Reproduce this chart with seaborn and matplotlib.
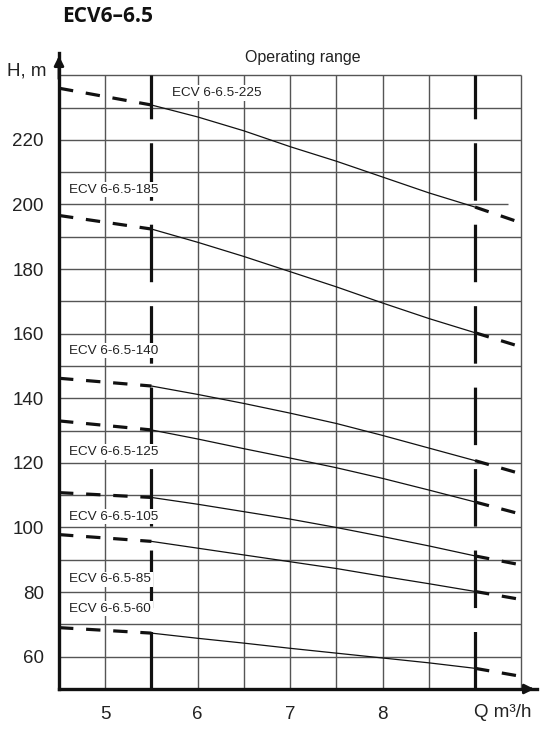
import matplotlib
matplotlib.use("Agg")
import matplotlib.pyplot as plt
import seaborn as sns
import pandas as pd

# ---- data ----
q_work = [5.5, 6.0, 6.5, 7.0, 7.5, 8.0, 8.5, 9.0]
q_left = [4.5, 5.5]
q_right = [9.0, 9.5]

models = ["ECV 6-6.5-225", "ECV 6-6.5-185", "ECV 6-6.5-140", "ECV 6-6.5-125",
          "ECV 6-6.5-105", "ECV 6-6.5-85", "ECV 6-6.5-60"]
h_225 = [230.8, 227.1, 222.8, 217.9, 213.4, 208.5, 203.6, 199.2]
h_185 = [192.4, 188.3, 183.9, 179.2, 174.5, 169.5, 164.7, 160.3]
h_140 = [143.8, 141.2, 138.4, 135.4, 132.2, 128.5, 124.6, 120.7]
h_125 = [130.2, 127.4, 124.4, 121.5, 118.5, 115.2, 111.6, 107.9]
h_105 = [109.3, 107.2, 104.9, 102.6, 100.0, 97.2, 94.3, 91.2]
h_85 = [95.7, 93.6, 91.5, 89.4, 87.3, 84.9, 82.6, 80.2]
h_60 = [67.3, 65.7, 64.2, 62.6, 61.1, 59.6, 58.1, 56.4]
h_left_start = [236.0, 196.6, 146.2, 133.0, 110.8, 97.8, 69.0]
h_right_end = [194.3, 155.9, 116.6, 104.1, 88.4, 77.7, 53.9]
curves = [h_225, h_185, h_140, h_125, h_105, h_85, h_60]

label_x = [5.72, 4.61, 4.61, 4.61, 4.61, 4.61, 4.61]
label_y = [234.5, 204.6, 154.7, 123.4, 103.4, 84.0, 74.9]

x_ticks = [5, 6, 7, 8]
y_ticks = [60, 80, 100, 120, 140, 160, 180, 200, 220]
limits = [5.5, 9.0]

# ---- figure ----
sns.set_theme(style="white")
plt.rcParams['font.family'] = ['Liberation Sans', 'DejaVu Sans']
fig = plt.figure(figsize=(5.41, 7.29), dpi=100)
ax = fig.add_axes([59/541, 40/729, (537-59)/541, (689-53)/729])
ax.set_xlim(4.5, 9.67)
ax.set_ylim(50, 246.9)

# grid (x 4.5..9.5 every 0.5, y 50..240 every 10)
gcol = "#555555"
for i in range(1, 20):
    h = 50 + 10 * i
    xr = 9.36 if h == 200 else 9.5
    ax.hlines(h, 4.5, xr, color=gcol, lw=1.0, zorder=1)
for i in range(1, 11):
    xv = 4.5 + 0.5 * i
    if xv in limits:
        continue
    ax.vlines(xv, 50, 240, color=gcol, lw=1.0, zorder=1)

# operating range limits
for xv in limits:
    ax.vlines(xv, 50, 240, color="#111111", lw=2.3, zorder=3,
              linestyles=[(0, (18, 7.5))])

# curves
for name, h, h0, h1 in zip(models, curves, h_left_start, h_right_end):
    df = pd.DataFrame({"Q": q_work, "H": h})
    sns.lineplot(data=df, x="Q", y="H", ax=ax, color="#111111", lw=0.9,
                 zorder=4, sort=False)
    dl = pd.DataFrame({"Q": q_left, "H": [h0, h[0]]})
    sns.lineplot(data=dl, x="Q", y="H", ax=ax, color="#111111", lw=2.3,
                 zorder=4, linestyle=(0, (4.5, 4)))
    dr = pd.DataFrame({"Q": q_right, "H": [h[-1], h1]})
    sns.lineplot(data=dr, x="Q", y="H", ax=ax, color="#111111", lw=2.3,
                 zorder=4, linestyle=(0, (4.5, 4)))

for name, lx, ly in zip(models, label_x, label_y):
    ax.text(lx, ly, name, fontsize=9.7, va="center", ha="left", zorder=5,
            family=['Liberation Sans Narrow', 'Liberation Sans'],
            color="#222222",
            bbox=dict(facecolor="white", edgecolor="none", pad=1.2))

# axes
for s in ["top", "right"]:
    ax.spines[s].set_visible(False)
for s in ["left", "bottom"]:
    ax.spines[s].set_linewidth(2.4)
    ax.spines[s].set_color("#111111")
ax.annotate("", xy=(4.5, 246.9), xytext=(4.5, 238),
            arrowprops=dict(arrowstyle="-|>", color="#111111", lw=2.0,
                            mutation_scale=14), annotation_clip=False)
ax.annotate("", xy=(9.67, 50), xytext=(9.55, 50),
            arrowprops=dict(arrowstyle="-|>", color="#111111", lw=2.0,
                            mutation_scale=14), annotation_clip=False)

ax.set_xticks(x_ticks)
ax.set_xticklabels([str(v) for v in x_ticks])
ax.set_yticks(y_ticks)
ax.set_yticklabels([str(v) for v in y_ticks])
ax.tick_params(axis="both", length=0, labelsize=13.5, colors="#222222")
ax.tick_params(axis="x", pad=12.5)
ax.tick_params(axis="y", pad=11)
ax.set_xlabel("")
ax.set_ylabel("")

ax.text(8.99, 42.6, "Q m³/h", fontsize=13.5, ha="left", va="center",
        color="#222222", clip_on=False)
ax.text(4.37, 241.3, "H, m", fontsize=13.5, ha="right", va="center",
        color="#222222", clip_on=False)
ax.text(7.14, 245.6, "Operating range", fontsize=11.5, ha="center",
        va="center", color="#222222", clip_on=False)
fig.text(62/541, 1 - 17/729, "ECV6–6.5", fontsize=15, fontweight="bold",
         family=["Open Sans", "DejaVu Sans"], ha="left", va="center",
         color="#111111")

fig.savefig("out.png", dpi=100)
